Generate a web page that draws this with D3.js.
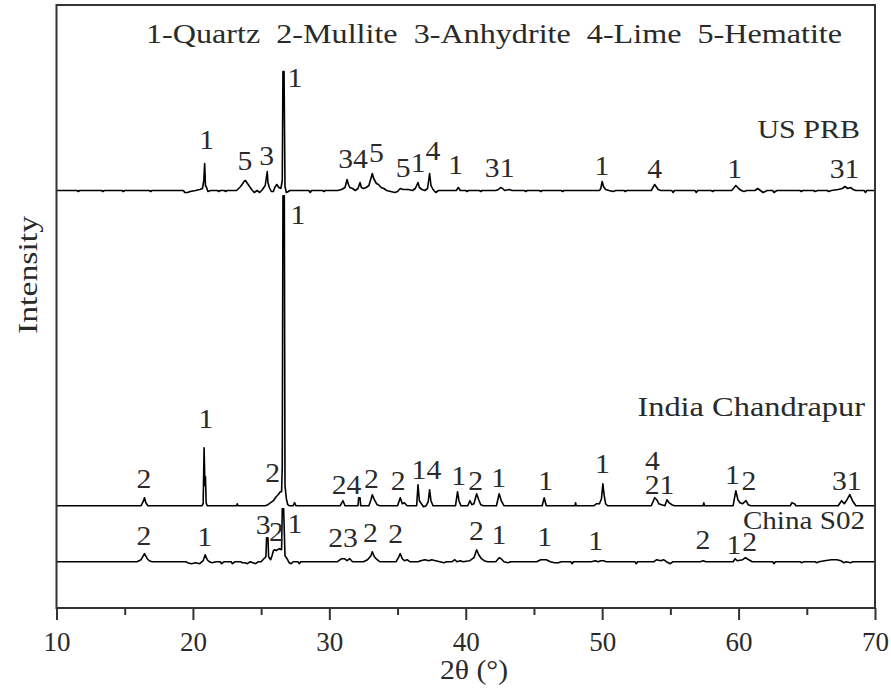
<!DOCTYPE html>
<html>
<head>
<meta charset="utf-8">
<script src="https://cdn.jsdelivr.net/npm/d3@7.9.0/dist/d3.min.js"></script>
<style>
  body { margin: 0; background: #fff; }
  svg text { font-family: "Liberation Serif", "Times New Roman", serif; fill: #2a2a2a; }
</style>
</head>
<body>
<div id="chart"></div>
<script>
// XRD patterns: [2theta, intensity above own baseline]
const usPRB = [
  [10,0],[11.5,0],[11.6,-1],[11.7,0],[13.3,0],[13.4,-1],[13.5,0],[14.8,0],[14.9,-1],[15,0],[16.8,0],[16.9,-1],[17,0],
  [19.3,0],[19.4,-2],[19.6,-2],[19.8,-1],[20.2,0],[20.5,1],[20.7,2],[20.8,10],[20.86,27],[20.92,5],[21.0,3],[21.1,-1],[21.3,0],
  [21.8,0],[21.9,-1],[22.0,0],[22.3,0],[22.4,-1],[22.5,0],[23.2,0],[23.5,4],[23.75,9],[23.85,10],[24.1,5],[24.3,1],[24.5,-2],
  [24.7,0],[24.9,-2],[25.1,1],[25.3,5],[25.45,19],[25.5,8],[25.6,3],[25.75,-1],[25.9,-1],[26.0,3],[26.15,6],[26.3,3],[26.45,2],
  [26.55,10],[26.6,119],[26.68,119],[26.75,4],[26.85,-2],[27.0,-1],[27.1,0],[28.5,0],[28.6,-2],[28.7,0],[29.5,0],[29.6,-1],[29.7,0],
  [30.6,0],[30.9,1],[31.15,3],[31.3,11],[31.4,6],[31.5,3],[31.7,2],[31.9,0],[32.1,2],[32.25,8],[32.35,3],[32.5,2],[32.7,3],
  [32.9,5],[33.15,17],[33.25,12],[33.45,7],[33.6,6],[33.8,3],[34.0,2],[34.2,0],[34.5,-1],[34.8,-2],[35.0,-1],[35.2,2],[35.4,1],
  [35.8,1],[36.1,0],[36.3,2],[36.5,8],[36.6,3],[36.8,1],[37.0,0],[37.2,2],[37.35,17],[37.45,5],[37.6,1],[37.8,-2],[38.0,0],
  [39.3,0],[39.45,3],[39.6,0],[40.0,0],[40.1,-1],[40.2,0],[41.0,0],[41.1,-1],[41.2,0],[42.2,0],[42.4,1],[42.55,3],[42.7,2],
  [42.85,0],[43.2,1],[43.4,0],[44.3,0],[44.4,-1],[44.5,0],[45.4,0],[45.5,-1],[45.6,0],[47.0,0],[47.1,-1],[47.2,0],[49.8,0],
  [49.9,2],[50.0,9],[50.1,4],[50.25,1],[50.5,0],[50.8,-1],[51.0,0],[51.6,0],[51.7,-1],[51.8,0],[53.6,0],[53.85,6],[54.1,1],
  [54.3,0],[55.1,0],[55.2,-2],[55.3,0],[56.8,0],[56.9,-2],[57.0,0],[58.0,0],[58.1,-1],[58.2,0],[59.5,0],[59.8,5],[60.0,2],
  [60.2,0],[60.4,-1],[60.6,0],[61.2,0],[61.4,2],[61.6,0],[61.8,-2],[62.1,0],[62.5,0],[62.6,-2],[62.8,0],[64.5,0],[64.6,-1],
  [64.7,0],[65.5,0],[65.6,-1],[65.8,0],[66.5,0],[66.6,-1],[66.8,0],[67.3,1],[67.6,2],[67.8,4],[68.0,2],[68.2,3],[68.4,1],
  [68.6,0],[69.2,0],[69.3,-2],[69.4,0],[70,0]
];
const india = [
  [10,0],[16.2,0],[16.35,4],[16.45,8],[16.55,3],[16.7,0],[20.65,0],[20.75,2],[20.82,58],[20.88,20],[20.92,29],[20.97,3],
  [21.05,0],[23.2,0],[23.25,2],[23.3,0],[25.3,0],[25.5,1],[25.7,3],[25.9,5],[26.1,9],[26.25,11],[26.4,14],[26.5,14],[26.55,40],
  [26.6,310],[26.7,310],[26.75,20],[26.85,7],[26.95,1],[27.05,0],[27.35,0],[27.45,3],[27.55,0],[30.8,0],[31.0,5],[31.15,0],
  [32.1,0],[32.15,8],[32.25,8],[32.3,0],[32.9,0],[33.05,6],[33.15,11],[33.3,6],[33.5,1],[33.7,0],[35.0,0],[35.2,8],[35.35,2],
  [35.5,3],[35.7,0],[36.4,0],[36.5,21],[36.6,5],[36.75,2],[36.9,-1],[37.1,0],[37.25,4],[37.35,16],[37.45,5],[37.6,0],
  [39.25,0],[39.4,14],[39.5,5],[39.65,0],[40.15,0],[40.3,5],[40.45,1],[40.6,2],[40.8,12],[40.95,6],[41.1,1],[41.3,0],
  [42.25,0],[42.45,12],[42.6,5],[42.8,0],[45.6,0],[45.75,8],[45.9,0],[48.0,0],[48.05,3],[48.1,0],[49.4,0],[49.6,2],[49.8,2],
  [49.95,7],[50.05,22],[50.15,10],[50.25,2],[50.4,0],[53.6,0],[53.85,8],[54.0,6],[54.15,2],[54.35,1],[54.6,0],[54.75,6],
  [54.9,3],[55.1,1],[55.3,0],[57.4,0],[57.45,3],[57.5,0],[59.6,0],[59.8,15],[59.95,6],[60.1,3],[60.3,2],[60.55,5],[60.7,1],
  [60.9,0],[63.8,0],[63.9,3],[64.1,2],[64.2,0],[67.3,0],[67.55,5],[67.75,2],[67.95,6],[68.15,11],[68.35,5],[68.6,0],[70,0]
];
const chinaS02 = [
  [10,0],[15.9,0],[16.2,2],[16.45,8],[16.65,3],[16.8,1],[17.0,0],[19.5,0],[19.6,-1],[19.9,-2],[20.2,-1],[20.5,-2],[20.75,1],
  [20.9,7],[21.05,2],[21.2,0],[21.4,-1],[21.7,0],[22.0,0],[22.1,-2],[22.3,0],[22.8,0],[22.9,-2],[23.1,0],[23.5,0],[23.6,-1],
  [23.8,-1],[24.0,-2],[24.2,0],[24.4,-1],[24.6,-2],[24.8,0],[25.0,0],[25.2,3],[25.35,5],[25.4,24],[25.5,24],[25.55,5],[25.7,2],
  [25.8,6],[25.9,11],[26.0,12],[26.1,11],[26.2,12],[26.35,13],[26.5,12],[26.55,53],[26.65,53],[26.75,6],[26.9,3],[27.05,-1],
  [27.2,-2],[27.35,0],[27.7,0],[27.8,-2],[27.9,0],[30.6,0],[30.9,3],[31.1,3],[31.3,1],[31.5,3],[31.7,0],[32.5,0],[32.8,2],
  [33.05,6],[33.15,10],[33.3,5],[33.5,2],[33.7,0],[34.9,0],[35.1,5],[35.2,8],[35.35,3],[35.5,1],[35.7,2],[35.9,0],[36.5,0],
  [36.7,1],[37.0,2],[37.3,1],[37.5,2],[37.8,1],[38.1,0],[38.4,-1],[38.6,0],[39.0,0],[39.2,2],[39.35,0],[39.6,1],[39.8,0],
  [40.3,1],[40.6,4],[40.8,12],[40.95,7],[41.15,3],[41.35,1],[41.6,0],[42.2,0],[42.45,4],[42.6,3],[42.8,0],[43.1,-1],[43.3,0],
  [45.2,0],[45.5,2],[45.9,2],[46.2,0],[46.5,-1],[46.8,-1],[47.0,0],[47.7,0],[47.8,-2],[47.9,0],[49.2,0],[49.5,1],[49.7,0],
  [49.9,1],[50.1,1],[50.3,0],[52.4,0],[52.5,-2],[52.6,0],[53.8,0],[54.0,2],[54.3,1],[54.5,2],[54.7,0],[55.0,-2],[55.2,0],
  [57.2,0],[57.4,1],[57.6,0],[59.6,0],[59.75,3],[59.9,1],[60.3,2],[60.5,4],[60.75,2],[61.0,0],[62.5,0],[62.6,-2],[62.7,0],
  [64.5,0],[64.6,-1],[64.8,0],[65.6,0],[65.7,-1],[65.9,0],[66.3,1],[66.8,2],[67.2,2],[67.5,1],[67.7,-1],[67.9,0],[68.2,-1],
  [68.4,0],[70,0]
];

// vertical offset of each pattern (same units as intensity)
const offsets = { us: 417.5, india: 102.3, china: 46.3 };

// peak labels: [text, 2theta, height of label baseline above pattern baseline]
const usLabels = [
  ["1",21.0,41.5],["5",23.81,20.5],["3",25.4,25.5],["1",27.47,104],["34",31.74,23],["5",33.46,29],["5",35.41,14],
  ["1",36.51,19],["4",37.6,30.5],["1",39.27,16.5],["31",42.49,13.5],["1",49.99,15.5],["4",53.85,12.5],["1",59.71,12.5],["31",67.77,12.5]
];
const indiaLabels = [
  ["2",16.41,17.4],["1",20.95,77.4],["2",25.84,24],["1",27.69,281.7],["24",31.26,11.4],["2",33.09,17.4],["2",35.04,15.7],
  ["14",37.12,26.4],["1",39.49,20.7],["2",40.73,15.7],["1",42.42,19],["1",45.86,15.7],["1",50.01,33],["4",53.68,36],
  ["21",54.21,12],["1",59.54,21.7],["2",60.75,15.7],["31",67.93,15.7]
];
const chinaLabels = [
  ["2",16.41,16.7],["1",20.86,15.7],["3",25.15,27.7],["2",26.13,21],["1",27.47,29],["23",31.01,15],["2",33.02,20],
  ["2",34.87,18.4],["2",40.78,21.7],["1",42.44,17.7],["1",45.79,15.7],["1",49.52,11.7],["2",57.38,12.4],["1",59.66,7.7],["2",60.81,11]
];

const sampleNames = ["US PRB", "India Chandrapur", "China S02"];
const legendText = "1-Quartz  2-Mullite  3-Anhydrite  4-Lime  5-Hematite";
const majorTicks = [10, 20, 30, 40, 50, 60, 70];
const minorTicks = [15, 25, 35, 45, 55, 65];

const width = 891, height = 689;
const plot = { left: 56.5, right: 875, top: 5, bottom: 608 };
const SX = 1.2; // the original text is drawn a bit wide

const svg = d3.select("#chart").append("svg")
  .attr("width", width)
  .attr("height", height);

const x = d3.scaleLinear().domain([10, 70]).range([plot.left, plot.right]);
const y = d3.scaleLinear().domain([0, plot.bottom - plot.top]).range([plot.bottom, plot.top]);

function wideText(g, px, py, str, size, anchor, sx) {
  g.append("text")
    .attr("transform", `translate(${px},${py}) scale(${sx || SX},1)`)
    .attr("text-anchor", anchor || "middle")
    .attr("font-size", size)
    .text(str);
}

// patterns
const line = d3.line().x(d => x(d[0]));
const series = [
  { data: usPRB, off: offsets.us, labels: usLabels },
  { data: india, off: offsets.india, labels: indiaLabels },
  { data: chinaS02, off: offsets.china, labels: chinaLabels }
];
series.forEach(s => {
  svg.append("path")
    .datum(s.data)
    .attr("d", line.y(d => y(d[1] + s.off)))
    .attr("fill", "none")
    .attr("stroke", "#000")
    .attr("stroke-width", 1.6)
    .attr("stroke-linejoin", "round");
});

// peak labels
const labelG = svg.append("g");
series.forEach(s => {
  s.labels.forEach(l => wideText(labelG, x(l[1]), y(l[2] + s.off), l[0], 27, "middle", 1.1));
});

// frame
svg.append("rect")
  .attr("x", plot.left).attr("y", plot.top)
  .attr("width", plot.right - plot.left).attr("height", plot.bottom - plot.top)
  .attr("fill", "none")
  .attr("stroke", "#333")
  .attr("stroke-width", 2);

// x axis
const xAxis = svg.append("g")
  .attr("transform", `translate(0,${plot.bottom})`)
  .call(d3.axisBottom(x).tickValues(majorTicks).tickSize(12).tickPadding(12).tickFormat(d3.format("d")));
xAxis.select(".domain").remove();
xAxis.selectAll("line").attr("stroke", "#333").attr("stroke-width", 2);
xAxis.selectAll("text")
  .attr("font-size", 27)
  .attr("fill", "#2a2a2a");

const xMinor = svg.append("g")
  .attr("transform", `translate(0,${plot.bottom})`)
  .call(d3.axisBottom(x).tickValues(minorTicks).tickSize(7).tickFormat(""));
xMinor.select(".domain").remove();
xMinor.selectAll("line").attr("stroke", "#333").attr("stroke-width", 2);

// axis titles
wideText(svg, 474, 679, "2θ (°)", 27, "middle", 1.1);
svg.append("text")
  .attr("transform", "translate(37,275) rotate(-90)")
  .attr("text-anchor", "middle")
  .attr("font-size", 28)
  .attr("textLength", 118)
  .attr("lengthAdjust", "spacingAndGlyphs")
  .text("Intensity");

// legend and sample names
svg.append("text")
  .attr("x", 146).attr("y", 43)
  .attr("font-size", 27)
  .attr("textLength", 696)
  .attr("lengthAdjust", "spacingAndGlyphs")
  .style("white-space", "pre")
  .text(legendText);

wideText(svg, 860, 138, sampleNames[0], 25, "end");
wideText(svg, 865, 416, sampleNames[1], 27, "end");
wideText(svg, 865, 529, sampleNames[2], 26, "end", 1.12);
</script>
</body>
</html>
